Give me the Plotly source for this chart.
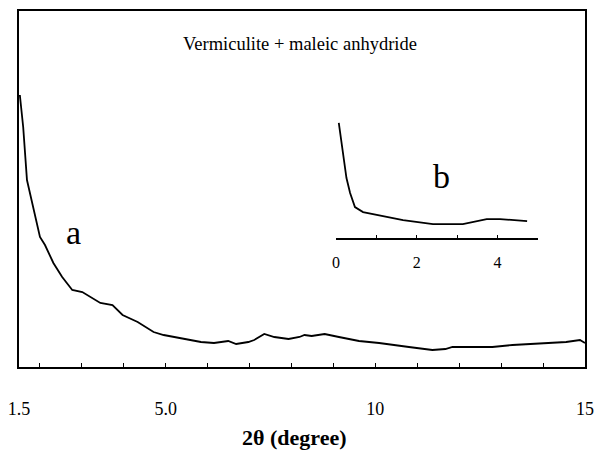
import plotly.graph_objects as go

# Main XRD pattern (a): 2-theta in degrees vs. intensity (arbitrary units)
two_theta_a = [1.52, 1.60, 1.69, 1.84, 2.00, 2.12, 2.32, 2.53, 2.77, 3.01, 3.20, 3.44,
               3.73, 3.97, 4.33, 4.71, 4.95, 5.36, 5.84, 6.15, 6.49, 6.68, 6.97, 7.11,
               7.35, 7.59, 7.93, 8.19, 8.31, 8.48, 8.79, 9.13, 9.61, 10.09, 10.40, 10.80,
               11.36, 11.67, 11.84, 12.24, 12.79, 13.27, 13.75, 14.23, 14.55, 14.88, 15.0]
intensity_a = [272, 240, 187, 160, 130, 122, 104, 90, 77, 75, 70, 64,
               62, 52, 45, 35, 32, 29, 25, 24, 26, 23, 25, 27,
               33, 30, 28, 30, 32, 31, 33, 30, 26, 24, 22, 20,
               17, 18, 20, 20, 20, 22, 23, 24, 25, 27, 24]

# Inset pattern (b)
two_theta_b = [0.07, 0.22, 0.26, 0.35, 0.47, 0.67, 1.01, 1.66, 2.40, 3.14, 3.73, 4.06, 4.73]
intensity_b = [115, 75, 60, 45, 31, 26, 23, 18, 14, 14, 19, 19, 17]

main_ticks = [1.5, 5, 10, 15]
main_tick_text = ["1.5", "5.0", "10", "15"]
inset_ticks = [0, 2, 4]

SERIF = "Liberation Serif, Times New Roman, serif"

fig = go.Figure()
fig.add_trace(go.Scatter(x=two_theta_a, y=intensity_a, mode="lines",
                         line=dict(color="black", width=1.8), showlegend=False))
fig.add_trace(go.Scatter(x=two_theta_b, y=intensity_b, mode="lines",
                         line=dict(color="black", width=1.8), showlegend=False,
                         xaxis="x2", yaxis="y2"))

fig.update_layout(
    width=595, height=454,
    margin=dict(l=19, r=10, t=11, b=87, autoexpand=False),
    paper_bgcolor="white", plot_bgcolor="white",
    font=dict(family=SERIF, color="black"),
    xaxis=dict(
        range=[1.5, 15.0], showgrid=False, zeroline=False, automargin=False,
        showline=True, linecolor="black", linewidth=1.5, mirror=True,
        tickmode="array", tickvals=main_ticks, ticktext=main_tick_text,
        ticks="inside", ticklen=4, tickcolor="black",
        minor=dict(tickmode="linear", tick0=0, dtick=1, ticks="inside",
                   ticklen=4, tickcolor="black"),
        tickfont=dict(size=18, family=SERIF),
        ticklabelstandoff=25,
    ),
    yaxis=dict(
        range=[0, 356], showgrid=False, zeroline=False, showticklabels=False,
        showline=True, linecolor="black", linewidth=1.5, mirror=True, ticks="",
    ),
    xaxis2=dict(
        domain=[0.560, 0.917], anchor="y2", range=[0, 5],
        showgrid=False, zeroline=False,
        showline=True, linecolor="black", linewidth=1.5,
        tickmode="array", tickvals=inset_ticks,
        ticks="inside", ticklen=3, tickcolor="black",
        minor=dict(tickmode="linear", tick0=0, dtick=1, ticks="inside",
                   ticklen=3, tickcolor="black"),
        tickfont=dict(size=16, family=SERIF),
        ticklabelstandoff=9,
    ),
    yaxis2=dict(
        domain=[0.362, 0.694], anchor="x2", range=[0, 118],
        showgrid=False, zeroline=False, showline=False,
        showticklabels=False, ticks="",
    ),
    annotations=[
        dict(text="Vermiculite + maleic anhydride", xref="paper", yref="paper",
             x=0.497, y=0.907, xanchor="center", yanchor="middle", showarrow=False,
             font=dict(size=18.5, family=SERIF)),
        dict(text="a", xref="x", yref="y", x=2.8, y=135, showarrow=False,
             font=dict(size=34, family=SERIF)),
        dict(text="b", xref="x2", yref="y2", x=2.6, y=62, showarrow=False,
             font=dict(size=34, family=SERIF)),
        # x-axis title
        dict(text="<b>2θ (degree)</b>", xref="paper", yref="paper",
             x=0.486, y=-0.197, xanchor="center", yanchor="middle", showarrow=False,
             font=dict(size=22, family=SERIF)),
    ],
)

fig.write_html("out.html")
